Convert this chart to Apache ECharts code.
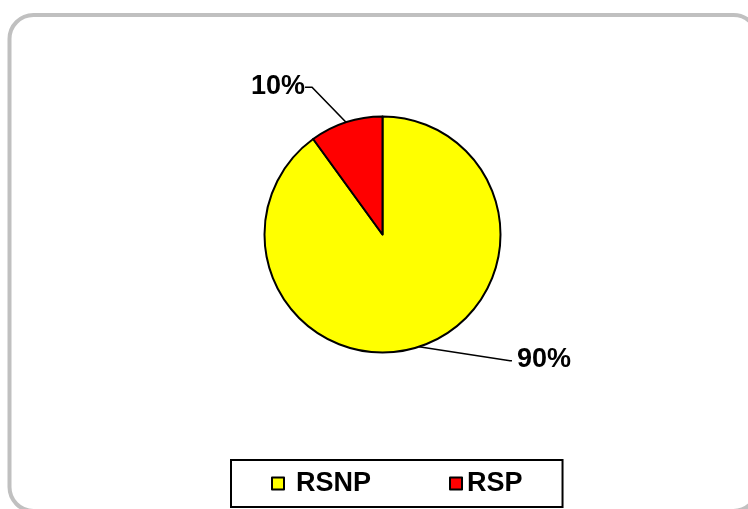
<!DOCTYPE html>
<html>
<head>
<meta charset="utf-8">
<script src="https://cdn.jsdelivr.net/npm/echarts@6/dist/echarts.min.js"></script>
<style>
  html, body { margin: 0; padding: 0; background: #fff; }
  #chart { width: 748px; height: 509px; }
</style>
</head>
<body>
<div id="chart"></div>
<script>
// Share of RSNP versus RSP
const categories = ['RSNP', 'RSP'];
const values = [90, 10];
const colors = ['#ffff00', '#ff0000'];

const FONT = '"Liberation Sans", Arial, sans-serif';
const FONT_SIZE = 27;
const CENTER = [382.5, 234.5];
const RADIUS = 118;

// Leader line shape per slice: elbow offset from the slice edge (dx, dy),
// then a horizontal run (signed length) towards the label.
const leaderShape = [
  [91, 14, 2],
  [-34, -35, -7]
];

// Edge point at a slice's mid angle (used if the library gives no line points)
function edgePoint(i) {
  const total = values.reduce((s, v) => s + v, 0);
  let before = 0;
  for (let k = 0; k < i; k++) before += values[k];
  const mid = (90 - 360 * (before + values[i] / 2) / total) * Math.PI / 180;
  return [CENTER[0] + RADIUS * Math.cos(mid), CENTER[1] - RADIUS * Math.sin(mid)];
}

const chart = echarts.init(document.getElementById('chart'), null, { renderer: 'canvas' });

const textBase = { fontFamily: FONT, fontSize: FONT_SIZE, fontWeight: 'bold', color: '#000', lineHeight: 26 };

chart.setOption({
  animation: false,
  backgroundColor: '#ffffff',
  graphic: [{
    type: 'rect',
    silent: true,
    shape: { x: 9.5, y: 15, width: 748, height: 496, r: 24 },
    style: { fill: 'none', stroke: '#c0c0c0', lineWidth: 4 }
  }],
  legend: {
    data: categories,
    left: 231,
    top: 460,
    orient: 'horizontal',
    icon: 'rect',
    itemWidth: 12,
    itemHeight: 12,
    itemGap: 78,
    itemTextGap: 6,
    padding: [10, 40, 10, 40],
    borderColor: '#000',
    borderWidth: 2,
    borderRadius: 0,
    itemStyle: { borderColor: '#000', borderWidth: 2 },
    formatter: function (name) {
      return name === 'RSNP' ? '{wide|' + name + '}' : '{tight|' + name + '}';
    },
    textStyle: Object.assign({}, textBase, {
      rich: {
        wide: Object.assign({}, textBase, { padding: [0, 0, 0, 7] }),
        tight: Object.assign({}, textBase)
      }
    })
  },
  series: [{
    type: 'pie',
    center: CENTER,
    radius: RADIUS,
    startAngle: 90,
    clockwise: true,
    avoidLabelOverlap: false,
    percentPrecision: 0,
    data: categories.map((name, i) => ({
      name: name,
      value: values[i],
      itemStyle: { color: colors[i] }
    })),
    itemStyle: { borderColor: '#000', borderWidth: 2 },
    label: {
      show: true,
      position: 'outside',
      formatter: '{d}%',
      fontFamily: FONT,
      fontSize: FONT_SIZE,
      fontWeight: 'bold',
      color: '#000'
    },
    labelLine: {
      show: true,
      length: 20,
      length2: 10,
      lineStyle: { color: '#000', width: 1.6 }
    },
    labelLayout: function (p) {
      const a = (p.labelLinePoints && p.labelLinePoints[0]) || edgePoint(p.dataIndex);
      const s = leaderShape[p.dataIndex];
      const mid = [a[0] + s[0], a[1] + s[1]];
      const end = [mid[0] + s[2], mid[1]];
      const right = s[2] >= 0;
      return {
        x: end[0] + (right ? 5 : 0),
        y: end[1] - 1,
        align: right ? 'left' : 'right',
        verticalAlign: 'middle',
        labelLinePoints: [a, mid, end]
      };
    },
    emphasis: { disabled: true }
  }]
});
</script>
</body>
</html>
